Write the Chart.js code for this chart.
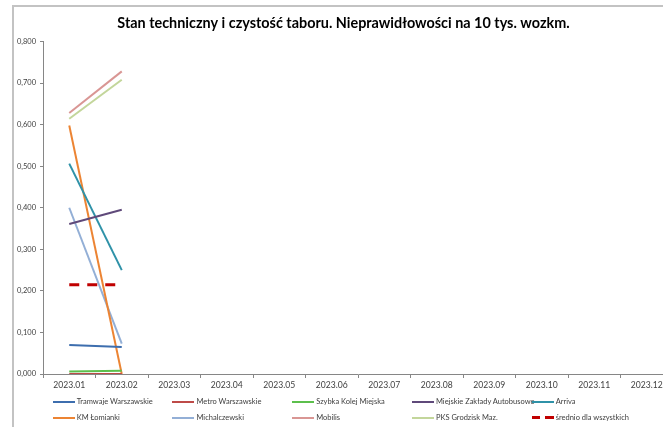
<!DOCTYPE html>
<html>
<head>
<meta charset="utf-8">
<script src="https://cdn.jsdelivr.net/npm/chart.js@4.4.1/dist/chart.umd.min.js"></script>
<style>
  html, body { margin: 0; padding: 0; background: #fff; width: 663px; height: 427px; overflow: hidden; position: relative; }
  #frame { position: absolute; left: 12px; top: 5px; width: 720px; height: 460px; border-left: 2px solid #c3c3c3; border-top: 2px solid #c3c3c3; }
  #wrap { position: absolute; left: 0; top: 0; width: 700px; height: 392px; }
  #legend { position: absolute; left: 0; top: 0; width: 663px; height: 427px; pointer-events: none; }
  .li { position: absolute; height: 10px; font-family: Lato, "Open Sans", sans-serif; font-size: 7.5px; color: #404040; white-space: nowrap; line-height: 10px; }
  .sw { position: absolute; left: 0; top: 4px; width: 22px; height: 2px; }
  .tx { position: absolute; left: 24px; top: 0; }
</style>
</head>
<body>
<div id="frame"></div>
<div id="wrap"><canvas id="c"></canvas></div>
<div id="legend"></div>
<script>
const categories = ["2023.01","2023.02","2023.03","2023.04","2023.05","2023.06","2023.07","2023.08","2023.09","2023.10","2023.11","2023.12"];
const seriesNames = ["Tramwaje Warszawskie","Metro Warszawskie","Szybka Kolej Miejska","Miejskie Zakłady Autobusowe","Arriva","KM Łomianki","Michalczewski","Mobilis","PKS Grodzisk Maz.","średnio dla wszystkich"];
const tramwaje = [0.070, 0.065];
const metro = [0.000, 0.000];
const skm = [0.006, 0.008];
const mza = [0.361, 0.395];
const arriva = [0.506, 0.250];
const kmLomianki = [0.598, 0.000];
const michalczewski = [0.400, 0.073];
const mobilis = [0.628, 0.728];
const pksGrodzisk = [0.614, 0.708];
const srednio = [0.215, 0.215];
const yTicks = [0, 0.1, 0.2, 0.3, 0.4, 0.5, 0.6, 0.7, 0.8];
const title = "Stan techniczny i czystość taboru. Nieprawidłowości na 10 tys. wozkm.";

const seriesValues = [tramwaje, metro, skm, mza, arriva, kmLomianki, michalczewski, mobilis, pksGrodzisk, srednio];
const colors = ["#3d6eae","#be4b48","#5cbf4c","#5f497a","#2f92a8","#ec8433","#93afd6","#d99694","#c3d69b","#c00000"];
// draw order: later-drawn on top
const order = [8,7,6,5,4,3,2,0,1,9];

const datasets = seriesValues.map((vals, i) => ({
  label: seriesNames[i],
  data: vals,
  borderColor: colors[i],
  backgroundColor: colors[i],
  borderWidth: i === 9 ? 3 : 2,
  borderDash: i === 9 ? [10, 8] : [],
  pointRadius: 0,
  pointHoverRadius: 0,
  fill: false,
  tension: 0,
  order: 10 - order.indexOf(i)
}));

const yFont = { family: "Lato, 'Open Sans', sans-serif", size: 7.5 };
const xFont = { family: "Lato, 'Open Sans', sans-serif", size: 8.6 };

new Chart(document.getElementById('c'), {
  type: 'line',
  data: { labels: categories, datasets },
  options: {
    responsive: true,
    maintainAspectRatio: false,
    animation: false,
    layout: { padding: { left: 14, right: 27, top: 0, bottom: 0 } },
    plugins: {
      legend: { display: false },
      tooltip: { enabled: false },
      title: {
        display: true,
        text: title,
        color: '#000',
        font: { family: "Lato, 'Open Sans', sans-serif", size: 14.4, weight: 'bold', lineHeight: 1.2 },
        padding: { top: 15, bottom: 9.2 }
      }
    },
    scales: {
      x: {
        type: 'category',
        offset: true,
        grid: { display: true, drawOnChartArea: false, offset: true, tickLength: 4, color: '#868686', tickColor: '#868686' },
        border: { display: true, color: '#868686', width: 1 },
        ticks: { color: '#404040', font: xFont, maxRotation: 0, autoSkip: false, padding: 2 },
        afterFit: s => { s.height = 18; }
      },
      y: {
        min: 0, max: 0.8,
        afterBuildTicks: s => { s.ticks = yTicks.map(v => ({ value: v })); },
        grid: { display: true, drawOnChartArea: false, tickLength: 3, color: '#868686', tickColor: '#868686' },
        border: { display: true, color: '#868686', width: 1 },
        ticks: { color: '#404040', font: yFont, padding: 4, callback: v => Number(v).toFixed(3).replace('.', ',') },
        afterFit: s => { s.width = 29; }
      }
    }
  }
});

// HTML legend in Excel-style fixed grid
const lg = document.getElementById('legend');
seriesNames.forEach((name, i) => {
  const col = i % 5, row = Math.floor(i / 5);
  const d = document.createElement('div');
  d.className = 'li';
  d.style.left = (52.7 + col * 119.75) + 'px';
  d.style.top = (row === 0 ? 397.3 : 412.7) + 'px';
  const sw = document.createElement('div');
  sw.className = 'sw';
  if (i === 9) {
    sw.style.height = '3px';
    sw.style.top = '3.5px';
    sw.style.background = `linear-gradient(to right, ${colors[i]} 0 8px, transparent 8px 13px, ${colors[i]} 13px 22px)`;
  } else {
    sw.style.background = colors[i];
  }
  const tx = document.createElement('span');
  tx.className = 'tx';
  tx.textContent = name;
  d.appendChild(sw); d.appendChild(tx);
  lg.appendChild(d);
});
</script>
</body>
</html>
